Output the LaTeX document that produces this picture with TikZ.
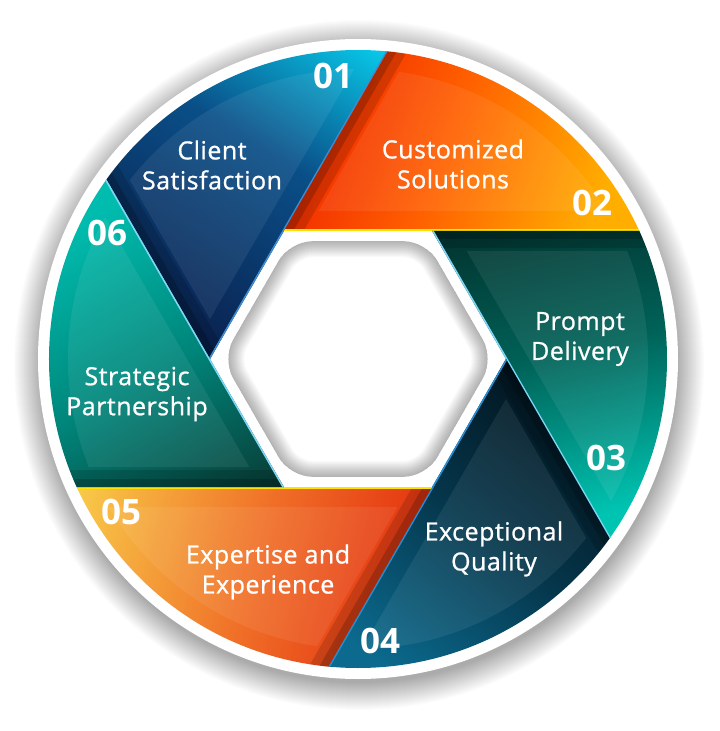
\documentclass[tikz,border=0pt]{standalone}
\usepackage{fontspec}
\setmainfont{Open Sans}
\newfontfamily\labelfont{Open Sans}[FakeBold=0.9,LetterSpace=2]
\usetikzlibrary{calc}

\definecolor{cAa}{HTML}{0A1F4C}\definecolor{cAm}{HTML}{0A4F88}\definecolor{cAb}{HTML}{08D2F0}
\definecolor{cBa}{HTML}{EE1E00}\definecolor{cBm}{HTML}{FF6000}\definecolor{cBb}{HTML}{FFAE00}
\definecolor{cCa}{HTML}{032624}\definecolor{cCm}{HTML}{006258}\definecolor{cCb}{HTML}{00C4B2}
\definecolor{cDa}{HTML}{02111A}\definecolor{cDm}{HTML}{05364B}\definecolor{cDb}{HTML}{0B6A8E}
\definecolor{cEa}{HTML}{E2280C}\definecolor{cEm}{HTML}{F07028}\definecolor{cEb}{HTML}{F8C848}
\definecolor{cFa}{HTML}{093A34}\definecolor{cFm}{HTML}{00857A}\definecolor{cFb}{HTML}{00BCAE}

\pgfdeclarehorizontalshading{shA}{100bp}{color(0bp)=(cAa); color(32bp)=(cAa); color(55bp)=(cAm); color(72bp)=(cAb); color(100bp)=(cAb)}
\pgfdeclarehorizontalshading{shB}{100bp}{color(0bp)=(cBa); color(32bp)=(cBa); color(50bp)=(cBm); color(68bp)=(cBb); color(100bp)=(cBb)}
\pgfdeclarehorizontalshading{shC}{100bp}{color(0bp)=(cCa); color(32bp)=(cCa); color(52bp)=(cCm); color(70bp)=(cCb); color(100bp)=(cCb)}
\pgfdeclarehorizontalshading{shD}{100bp}{color(0bp)=(cDa); color(32bp)=(cDa); color(50bp)=(cDm); color(68bp)=(cDb); color(100bp)=(cDb)}
\pgfdeclarehorizontalshading{shE}{100bp}{color(0bp)=(cEa); color(32bp)=(cEa); color(52bp)=(cEm); color(72bp)=(cEb); color(100bp)=(cEb)}
\pgfdeclarehorizontalshading{shF}{100bp}{color(0bp)=(cFa); color(32bp)=(cFa); color(50bp)=(cFm); color(68bp)=(cFb); color(100bp)=(cFb)}

% #1 vertex angle, #2 shading, #3 shading angle, #4 highlight colour
\newcommand\shutterblade[4]{%
\begin{scope}
  \clip (0,0) circle (309);
  \clip (#1:148) -- ($(#1:148)+(#1-120:800)$) -- ($(#1:148)+(#1-60:800)$) -- cycle;
  \shade[shading=#2, shading angle=#3] ($(#1:148)+(#1-90:190)$) circle (232);
  \begin{scope}
    \clip (0,0) circle (290);
    \fill[white, opacity=0.07] ($(#1:148)+(#1-90:40)$) -- ++(#1-120:800) -- ++(#1:800) -- cycle;
  \end{scope}
  \draw[black, opacity=0.14, line width=34pt] (#1:148) -- ++(#1-60:500);
  \draw[black, opacity=0.18, line width=16pt] (#1:148) -- ++(#1-60:500);
  \draw[#4, line width=3pt] (#1:148) -- ++(#1-120:500);
\end{scope}}

\tikzset{
  lbl/.style={text=white, align=center, inner sep=0pt, font=\labelfont\fontsize{25}{30}\selectfont},
  numlbl/.style={text=white, inner sep=0pt, font=\fontsize{35}{35}\selectfont\bfseries},
  hexpath/.style={rounded corners=22pt}
}

\begin{document}
\begin{tikzpicture}[x=1pt,y=1pt]
\useasboundingbox (-358,-372) rectangle (362,359);
\fill[white] (-358,-372) rectangle (362,359);

% soft drop shadow of the disc
\foreach \i in {1,...,28} \fill[black, opacity=0.011] (1,-6) circle (317+\i);
\fill[white] (0,0) circle (320);

% blades
\shutterblade{180}{shA}{58}{cyan!60!blue!80!white}
\shutterblade{120}{shB}{-20}{yellow!90!orange}
\shutterblade{60}{shC}{-76}{cyan!50!white}
\shutterblade{0}{shD}{232}{cyan!70!blue!90!white}
\shutterblade{300}{shE}{165}{yellow!85!orange}
\shutterblade{240}{shF}{120}{cyan!50!white}

% central hexagon with soft inner shadow
\begin{scope}
  \clip[hexpath] (0:136) -- (60:136) -- (120:136) -- (180:136) -- (240:136) -- (300:136) -- cycle;
  \fill[white] (-140,-140) rectangle (140,140);
  \foreach \w in {2,4,...,32}
    \draw[hexpath, black, opacity=0.018, line width=\w pt] (0:136) -- (60:136) -- (120:136) -- (180:136) -- (240:136) -- (300:136) -- cycle;
\end{scope}

% labels
\node[numlbl] (n01) at (-25,283) {01};
\node[lbl] (t01) at (-146,194) {Client\\Satisfaction};
\node[numlbl] (n02) at (234,156) {02};
\node[lbl] (t02) at (95,195) {Customized\\Solutions};
\node[numlbl] (n03) at (248,-99) {03};
\node[lbl] (t03) at (222,20) {Prompt\\Delivery};
\node[numlbl] (n04) at (22,-282) {04};
\node[lbl] (t04) at (136,-190) {Exceptional\\Quality};
\node[numlbl] (n05) at (-237,-153) {05};
\node[lbl] (t05) at (-90,-213) {Expertise and\\Experience};
\node[numlbl] (n06) at (-251,126) {06};
\node[lbl] (t06) at (-221,-35) {Strategic\\Partnership};
\end{tikzpicture}
\end{document}
